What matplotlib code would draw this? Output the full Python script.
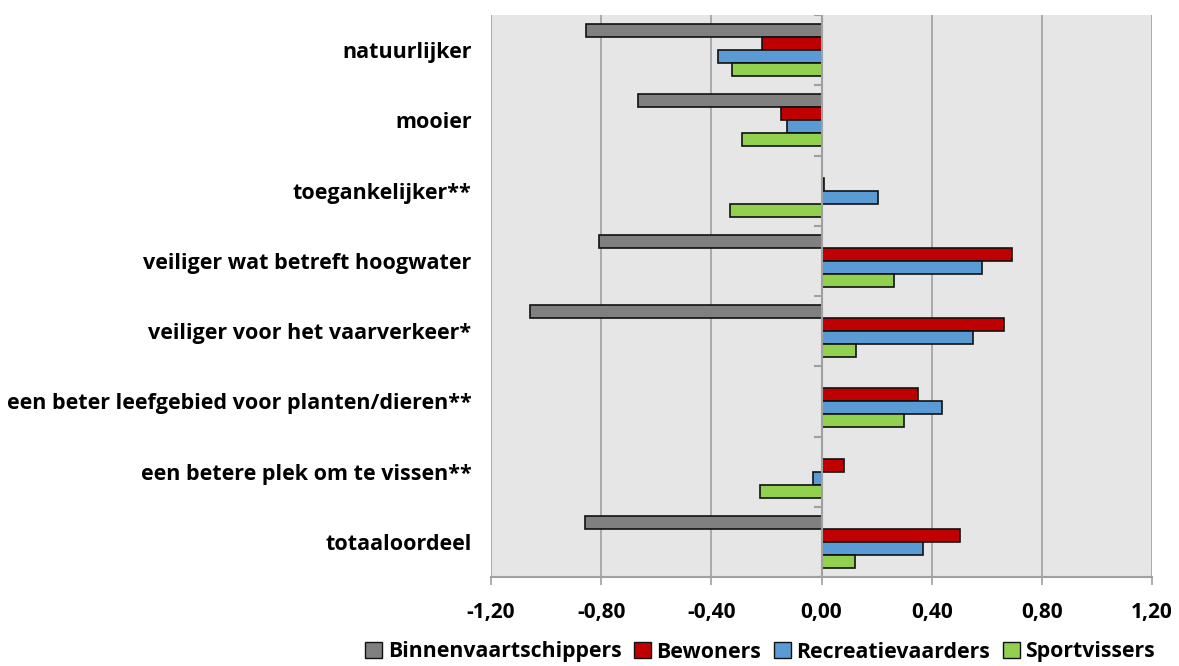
import matplotlib
matplotlib.use("Agg")
import matplotlib.pyplot as plt
import numpy as np
from matplotlib.patches import Patch

categories = ["natuurlijker", "mooier", "toegankelijker**", "veiliger wat betreft hoogwater",
              "veiliger voor het vaarverkeer*", "een beter leefgebied voor planten/dieren**",
              "een betere plek om te vissen**", "totaaloordeel"]
series_names = ["Binnenvaartschippers", "Bewoners", "Recreatievaarders", "Sportvissers"]
binnenvaart = [-0.856, -0.667, np.nan, -0.807, -1.059, np.nan, np.nan, -0.859]
bewoners = [-0.216, -0.148, 0.010, 0.692, 0.663, 0.349, 0.081, 0.503]
recreatie = [-0.376, -0.125, 0.206, 0.583, 0.549, 0.436, -0.030, 0.367]
sportvissers = [-0.324, -0.290, -0.332, 0.263, 0.126, 0.298, -0.224, 0.120]
xticks = [-1.2, -0.8, -0.4, 0.0, 0.4, 0.8, 1.2]
xticklabels = ["-1,20", "-0,80", "-0,40", "0,00", "0,40", "0,80", "1,20"]

colors = ["#808080", "#c00000", "#5b9bd5", "#92d050"]
plt.rcParams['font.family'] = ['Open Sans', 'DejaVu Sans']

fig = plt.figure(figsize=(11.79, 6.66), dpi=100)
ax = fig.add_axes([491/1179, 1-577/666, (1152-491)/1179, (577-15)/666])
ax.set_facecolor("#e6e6e6")

y = np.arange(len(categories))
h = 0.185
data = [binnenvaart, bewoners, recreatie, sportvissers]
for k, (vals, c) in enumerate(zip(data, colors)):
    ax.barh(y + (k - 1.5) * h, vals, height=h, color=c, edgecolor="#111111",
            linewidth=1.2, zorder=3)

ax.set_xlim(-1.2, 1.2)
ax.set_ylim(len(categories) - 0.5, -0.5)
ax.set_xticks(xticks)
ax.set_xticklabels(xticklabels, fontsize=15, fontweight="bold")
ax.set_yticks(y)
ax.set_yticklabels(categories, fontsize=15.5, fontweight="bold")
ax.tick_params(axis="y", length=0, pad=14)
ax.tick_params(axis="x", length=6, color="#a0a0a0", width=1.2, pad=12)

for xv in xticks:
    if xv != 0.0:
        ax.axvline(xv, color="#a0a0a0", linewidth=1.2, zorder=1)
ax.axvline(0, color="#a0a0a0", linewidth=1.5, zorder=4)
bounds = np.arange(len(categories) + 1) - 0.5
ax.hlines(bounds, -0.026, 0, color="#a0a0a0", linewidth=1.5, zorder=4)

for s in ["top", "right", "left"]:
    ax.spines[s].set_visible(False)
ax.spines["bottom"].set_color("#a0a0a0")
ax.spines["bottom"].set_linewidth(1.5)

handles = [Patch(facecolor=c, edgecolor="#111111", linewidth=1.0, label=n)
           for c, n in zip(colors, series_names)]
fig.legend(handles=handles, loc="center", bbox_to_anchor=(760/1179, 1-652/666),
           ncol=4, frameon=False, prop={"size": 15.3, "weight": "bold"},
           handlelength=0.8, handleheight=0.8, handletextpad=0.25, columnspacing=0.6)

fig.savefig("out.png", dpi=100)
